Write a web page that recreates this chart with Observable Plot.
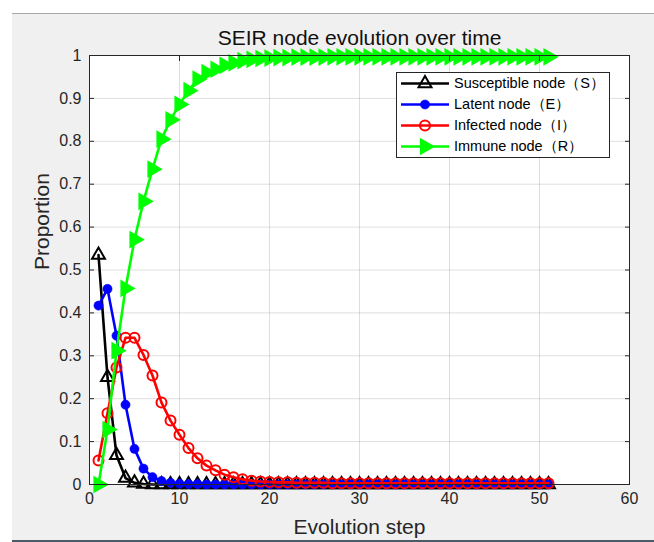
<!DOCTYPE html>
<html><head><meta charset="utf-8">
<script src="https://cdn.jsdelivr.net/npm/d3@7"></script>
<script src="https://cdn.jsdelivr.net/npm/@observablehq/plot@0.6"></script>
<style>
html,body{margin:0;padding:0;background:#fff;}
#wrap{position:relative;width:654px;height:542px;overflow:hidden;background:#fff;}
#panel{position:absolute;left:12px;top:13px;width:642px;height:527px;background:#f0f0f0;border-top:1px solid #a9a9a9;}
#bar{position:absolute;left:12px;top:540px;width:642px;height:2px;background:#4a5a66;}
#chart{position:absolute;left:0;top:0;}
#legend{position:absolute;left:396px;top:72px;width:212px;height:84px;border:1px solid #262626;background:#fff;font-family:"Liberation Sans",Arial,sans-serif;font-size:14.5px;color:#000;}
.row{height:21px;display:flex;align-items:center;white-space:nowrap;}
.row svg{display:block;margin-left:3px;margin-right:4px;}
</style>
</head><body>
<div id="wrap"><div id="panel"></div><div id="bar"></div><div id="chart"></div><div id="legend"></div></div>
<script>
// ---- data ----
const xTicks = [0, 10, 20, 30, 40, 50, 60];
const yTicks = [0, 0.1, 0.2, 0.3, 0.4, 0.5, 0.6, 0.7, 0.8, 0.9, 1];
const seriesNames = ["Susceptible node（S）", "Latent node（E）", "Infected node（I）", "Immune node（R）"];
const steps = d3.range(1, 52);
const S = [0.535, 0.25, 0.068, 0.015, 0.004, 0.001, 0, 0, 0, 0,
  0, 0, 0, 0, 0, 0, 0, 0, 0, 0,
  0, 0, 0, 0, 0, 0, 0, 0, 0, 0,
  0, 0, 0, 0, 0, 0, 0, 0, 0, 0,
  0, 0, 0, 0, 0, 0, 0, 0, 0, 0,
  0];
const E = [0.417, 0.456, 0.347, 0.186, 0.083, 0.037, 0.017, 0.008, 0.004, 0.002,
  0.001, 0.001, 0, 0, 0, 0, 0, 0, 0, 0,
  0, 0, 0, 0, 0, 0, 0, 0, 0, 0,
  0, 0, 0, 0, 0, 0, 0, 0, 0, 0,
  0, 0, 0, 0, 0, 0, 0, 0, 0, 0,
  0];
const I = [0.056, 0.166, 0.273, 0.342, 0.342, 0.302, 0.254, 0.191, 0.149, 0.116,
  0.085, 0.061, 0.044, 0.033, 0.023, 0.017, 0.012, 0.009, 0.007, 0.006,
  0.005, 0.005, 0.004, 0.004, 0.004, 0.004, 0.003, 0.003, 0.003, 0.003,
  0.003, 0.003, 0.003, 0.003, 0.003, 0.003, 0.003, 0.003, 0.003, 0.003,
  0.003, 0.003, 0.003, 0.003, 0.003, 0.003, 0.003, 0.003, 0.003, 0.003,
  0.003];
const R = [0, 0.128, 0.312, 0.457, 0.571, 0.66, 0.735, 0.805, 0.85, 0.886,
  0.918, 0.945, 0.96, 0.968, 0.977, 0.983, 0.988, 0.991, 0.993, 0.994,
  0.995, 0.995, 0.996, 0.996, 0.996, 0.996, 0.997, 0.997, 0.997, 0.997,
  0.997, 0.997, 0.997, 0.997, 0.997, 0.997, 0.997, 0.997, 0.997, 0.997,
  0.997, 0.997, 0.997, 0.997, 0.997, 0.997, 0.997, 0.997, 0.997, 0.997,
  0.997];

const colors = ["#000000", "#0000ff", "#ff0000", "#00ff00"];
const valuesList = [S, E, I, R];
const tables = valuesList.map(v => steps.map((s, i) => ({step: s, value: v[i]})));

const dotStyles = [
  {symbol: "triangle", r: 4.8, fill: "none", stroke: colors[0], strokeWidth: 2},
  {symbol: "circle", r: 4.6, fill: colors[1], stroke: colors[1], strokeWidth: 0.5},
  {symbol: "circle", r: 5, fill: "none", stroke: colors[2], strokeWidth: 2},
  {symbol: "triangle", r: 5.6, rotate: 90, fill: colors[3], stroke: colors[3], strokeWidth: 1.5}
];

const seriesMarks = [];
tables.forEach((t, k) => {
  seriesMarks.push(Plot.line(t, {x: "step", y: "value", stroke: colors[k], strokeWidth: 2.6}));
  seriesMarks.push(Plot.dot(t, {x: "step", y: "value", ...dotStyles[k]}));
});

const font = "'Liberation Sans', Arial, Helvetica, sans-serif";
const noText = () => "";
const chart = Plot.plot({
  width: 654, height: 542,
  marginLeft: 89, marginRight: 25, marginTop: 55, marginBottom: 58,
  style: {background: "transparent", fontFamily: font, fontSize: "16px", color: "#262626", overflow: "visible"},
  x: {domain: [0, 60]},
  y: {domain: [0, 1]},
  marks: [
    Plot.frame({fill: "white", stroke: "none"}),
    Plot.gridX(xTicks, {stroke: "#000", strokeOpacity: 0.13, strokeWidth: 1}),
    Plot.gridY(yTicks, {stroke: "#000", strokeOpacity: 0.13, strokeWidth: 1}),
    ...seriesMarks,
    Plot.frame({stroke: "#262626", strokeWidth: 1}),
    Plot.axisX(xTicks, {anchor: "bottom", tickSize: 0, tickPadding: 8, tickFormat: d => String(d), fill: "#262626", fontSize: 16, label: null}),
    Plot.axisY(yTicks, {anchor: "left", tickSize: 0, tickPadding: 8, tickFormat: d => String(d), fill: "#262626", fontSize: 16, label: null}),
    Plot.axisX(xTicks, {anchor: "bottom", tickSize: -5, tickFormat: noText, stroke: "#262626", label: null}),
    Plot.axisX(xTicks, {anchor: "top", tickSize: -5, tickFormat: noText, stroke: "#262626", label: null}),
    Plot.axisY(yTicks, {anchor: "left", tickSize: -5, tickFormat: noText, stroke: "#262626", label: null}),
    Plot.axisY(yTicks, {anchor: "right", tickSize: -5, tickFormat: noText, stroke: "#262626", label: null}),
    Plot.text(["SEIR node evolution over time"], {text: d => d, frameAnchor: "top", lineAnchor: "middle", dy: -17, fontSize: 21, fill: "#111"}),
    Plot.text(["Evolution step"], {text: d => d, frameAnchor: "bottom", lineAnchor: "middle", dy: 43, fontSize: 21, fill: "#262626"}),
    Plot.text(["Proportion"], {text: d => d, frameAnchor: "left", lineAnchor: "middle", dx: -47, rotate: -90, fontSize: 21, fill: "#262626"})
  ]
});
document.getElementById("chart").appendChild(chart);

// legend
const legend = d3.select("#legend");
seriesNames.forEach((name, k) => {
  const row = legend.append("div").attr("class", "row");
  const svg = row.append("svg").attr("width", 50).attr("height", 21);
  svg.append("line").attr("x1", 1).attr("x2", 49).attr("y1", 10.5).attr("y2", 10.5)
    .attr("stroke", colors[k]).attr("stroke-width", 2.6);
  const st = dotStyles[k];
  const type = st.symbol === "triangle" ? d3.symbolTriangle : d3.symbolCircle;
  svg.append("path").attr("d", d3.symbol(type, Math.PI * st.r * st.r)())
    .attr("transform", `translate(25,10.5) rotate(${st.rotate || 0})`)
    .attr("fill", st.fill).attr("stroke", st.stroke).attr("stroke-width", st.strokeWidth);
  row.append("span").text(name);
});
</script>
</body></html>
